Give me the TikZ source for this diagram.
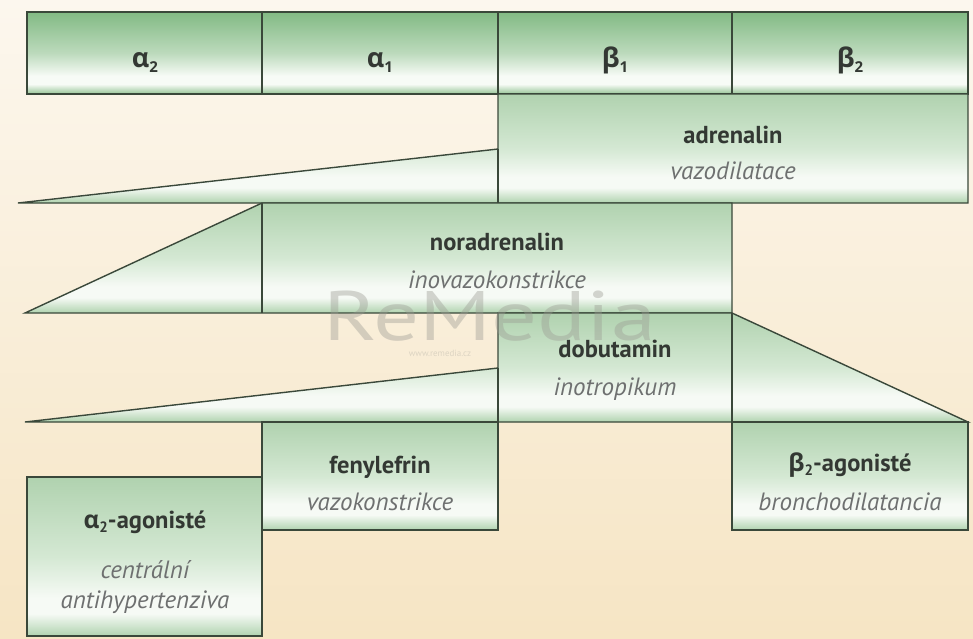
\documentclass[tikz,border=0pt]{standalone}
\usepackage{fontspec}
\setmainfont{PT Sans}
\newfontfamily\grk{Open Sans}
\definecolor{bgT}{HTML}{FCF7EE}
\definecolor{bgB}{HTML}{F6E5C4}
\definecolor{lineC}{HTML}{3A483A}
\definecolor{labC}{HTML}{333833}
\definecolor{itC}{HTML}{6E7070}
\definecolor{hT}{HTML}{82BA84}
\definecolor{hM}{HTML}{BCDABC}
\definecolor{hW}{HTML}{F7FBF6}
\definecolor{hB}{HTML}{96C496}
\definecolor{bT}{HTML}{B0D2AF}
\definecolor{bM}{HTML}{D4E8D3}
\definecolor{bW}{HTML}{F6FAF5}
\definecolor{bB}{HTML}{B0D3AF}
\definecolor{wmC}{HTML}{9A9A92}
\pgfdeclareverticalshading{hdrshade}{100bp}{color(0bp)=(hB); color(25bp)=(hB); color(31bp)=(hW); color(36bp)=(hW); color(50bp)=(hM); color(75bp)=(hT); color(100bp)=(hT)}
\pgfdeclareverticalshading{boxshade}{100bp}{color(0bp)=(bB); color(25bp)=(bB); color(32bp)=(bW); color(37bp)=(bW); color(50bp)=(bM); color(75bp)=(bT); color(100bp)=(bT)}
\newcommand\lowsub[1]{\raisebox{-0.4ex}{\fontsize{15}{15}\selectfont #1}}
\tikzset{
  hdrbox/.style={draw=lineC, shade, shading=hdrshade},
  rowbox/.style={draw=lineC, shade, shading=boxshade},
  sepline/.style={draw=lineC},
  hdrlbl/.style={anchor=base, text=labC, inner sep=0, font=\fontsize{27}{27}\selectfont\grk\bfseries},
  lbl/.style={anchor=base, text=labC, inner sep=0, font=\fontsize{24.5}{24.5}\selectfont\bfseries},
  desc/.style={anchor=base, text=itC, inner sep=0, font=\fontsize{25}{25}\selectfont\itshape},
}
\begin{document}
\begin{tikzpicture}[x=1pt,y=-1pt,line width=1.4pt,line join=miter]
\useasboundingbox (0,0) rectangle (973,638);
\fill[top color=bgT,bottom color=bgB] (0,0) rectangle (973,638);
% header
\path[hdrbox] (27,12) rectangle (968,94);
\draw[sepline] (262,12) -- (262,94);
\draw[sepline] (498,12) -- (498,94);
\draw[sepline] (732,12) -- (732,94);
\node[hdrlbl] (ha2) at (145,67) {α\lowsub{2}};
\node[hdrlbl] (ha1) at (380,67) {α\lowsub{1}};
\node[hdrlbl] (hb1) at (615,67) {β\lowsub{1}};
\node[hdrlbl] (hb2) at (850,67) {β\lowsub{2}};
% adrenalin row
\coordinate (adrTip) at (18,203);
\coordinate (adrTop) at (498,149);
\path[rowbox] (adrTip) -- (adrTop) -- (498,94) -- (968,94) -- (968,203) -- cycle;
\draw[sepline] (adrTop) -- (498,203);
\node[lbl] (adr) at (733,143) {adrenalin};
\node[desc] (adrd) at (733,179) {vazodilatace};
% noradrenalin row
\coordinate (norTip) at (25,313);
\path[rowbox] (norTip) -- (262,203) -- (732,203) -- (732,313) -- cycle;
\draw[sepline] (262,203) -- (262,313);
\node[lbl] (nor) at (497,250) {noradrenalin};
\node[desc] (nord) at (497,288) {inovazokonstrikce};
% dobutamin row
\coordinate (dobTip) at (25,422);
\coordinate (dobTop) at (498,368);
\path[rowbox] (dobTip) -- (dobTop) -- (498,313) -- (732,313) -- (968,422) -- cycle;
\draw[sepline] (dobTop) -- (498,422);
\draw[sepline] (732,313) -- (732,422);
\node[lbl] (dob) at (615,357) {dobutamin};
\node[desc] (dobd) at (615,395) {inotropikum};
% fenylefrin
\path[rowbox] (262,422) rectangle (498,530);
\node[lbl] (fen) at (380,473) {fenylefrin};
\node[desc] (fend) at (380,510) {vazokonstrikce};
% beta2 agonists
\path[rowbox] (732,422) rectangle (968,530);
\node[lbl] (b2a) at (850,471) {{\grk β}\lowsub{2}-agonisté};
\node[desc] (b2ad) at (850,510) {bronchodilatancia};
% alpha2 agonists
\path[rowbox] (27,477) rectangle (262,636);
\node[lbl] (a2a) at (145,528) {{\grk α}\lowsub{2}-agonisté};
\node[desc] (a2ad1) at (145,578) {centrální};
\node[desc] (a2ad2) at (145,608) {antihypertenziva};
% watermark
\node[anchor=base, inner sep=0, text=wmC, opacity=0.4, font=\fontsize{70}{70}\selectfont] (wm) at (490,340) {\scalebox{1.3}[1]{ReMedia}};
\node[anchor=base, inner sep=0, text=wmC, opacity=0.3, font=\fontsize{9}{9}\selectfont] (wmu) at (440,356) {www.remedia.cz};
\end{tikzpicture}
\end{document}
